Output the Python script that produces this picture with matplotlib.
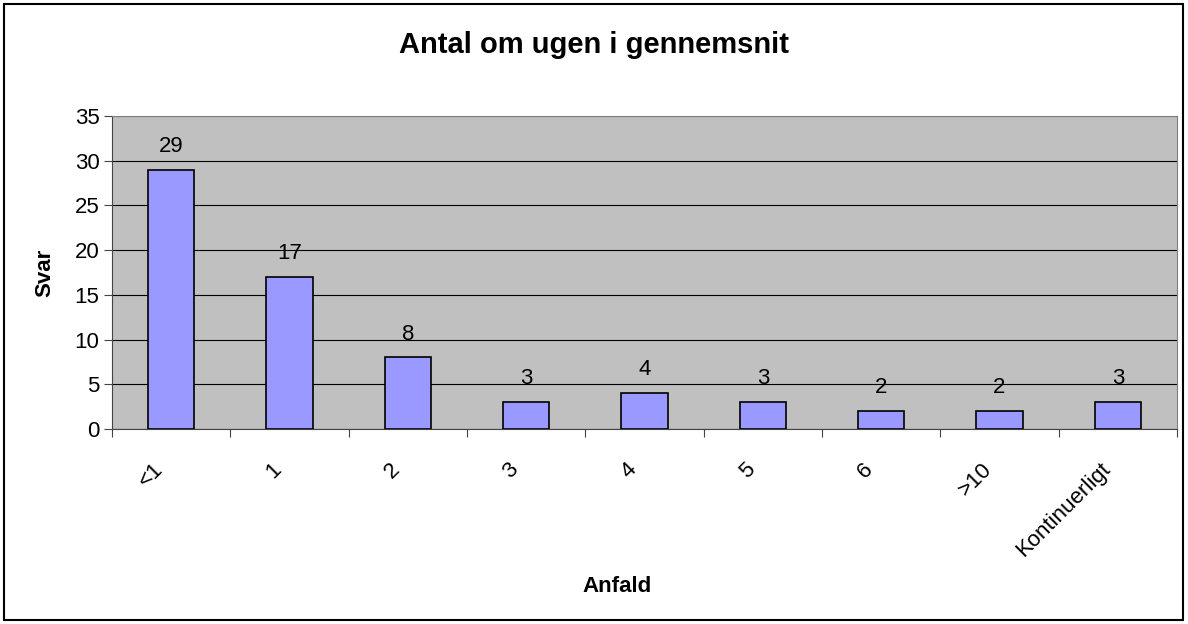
import matplotlib
matplotlib.use("Agg")
import matplotlib.pyplot as plt
from matplotlib.patches import Rectangle
from matplotlib.transforms import ScaledTranslation
import numpy as np

plt.rcParams["font.family"] = ["Liberation Sans", "DejaVu Sans"]

categories = ["<1", "1", "2", "3", "4", "5", "6", ">10", "Kontinuerligt"]
svar = [29, 17, 8, 3, 4, 3, 2, 2, 3]
yticks = [0, 5, 10, 15, 20, 25, 30, 35]

fig = plt.figure(figsize=(11.88, 6.24), dpi=100)
ax = fig.add_axes([112 / 1188, 1 - 429 / 624, (1177 - 112) / 1188, (429 - 116) / 624])
fig.patches.append(Rectangle((4 / 1188, 4 / 624), 1179 / 1188, 616 / 624,
                             transform=fig.transFigure, fill=False,
                             edgecolor="black", linewidth=1.5))

x = np.arange(len(categories))
ax.set_facecolor("#C0C0C0")
ax.bar(x, svar, width=0.39, color="#9999FF", edgecolor="black", linewidth=1.2, zorder=3)
for xi, v in zip(x, svar):
    ax.text(xi, v + 2.6, str(v), ha="center", va="center", fontsize=16, zorder=4)

ax.set_xlim(-0.5, len(categories) - 0.5)
ax.set_ylim(0, 35)
ax.set_yticks(yticks)
ax.yaxis.grid(True, color="black", linewidth=0.8)
ax.set_axisbelow(True)

ax.set_xticks(np.arange(len(categories) + 1) - 0.5)
ax.set_xticklabels([])
ax.tick_params(axis="x", which="major", length=6, color="#444444")
ax.tick_params(axis="y", length=6, labelsize=16, color="#444444", pad=3)

# rotated category labels, right end just left of each category centre
shift = ScaledTranslation(-11 / 100, -37 / 100, fig.dpi_scale_trans)
for xi, lab in zip(x, categories):
    ax.text(xi, 0, lab, rotation=45, ha="right", va="center", rotation_mode="anchor",
            fontsize=16, transform=ax.get_xaxis_transform() + shift)

for s in ["top", "right"]:
    ax.spines[s].set_color("#808080")
ax.spines["left"].set_color("#444444")
ax.spines["bottom"].set_color("#444444")

ax.set_ylabel("Svar", fontsize=16, fontweight="bold", labelpad=14)
fig.text(617 / 1188, 1 - 586 / 624, "Anfald", ha="center", va="center",
         fontsize=16, fontweight="bold")
fig.text(594 / 1188, 1 - 45 / 624, "Antal om ugen i gennemsnit", ha="center", va="center",
         fontsize=21, fontweight="bold")

fig.savefig("out.png", dpi=100)
